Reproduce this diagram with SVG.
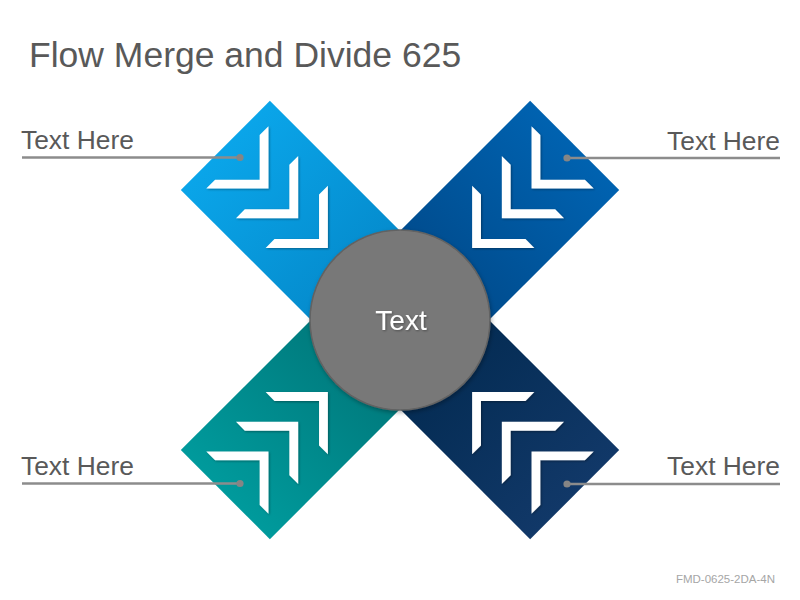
<svg xmlns="http://www.w3.org/2000/svg" xmlns:xlink="http://www.w3.org/1999/xlink" width="800" height="600" viewBox="0 0 800 600">
<style>
.title{font-family:"Liberation Sans",Arial,sans-serif;font-size:35.5px;fill:#595959}
.lbl{font-family:"Liberation Sans",Arial,sans-serif;font-size:26.4px;fill:#595959}
.ctr{font-family:"Liberation Sans",Arial,sans-serif;font-size:28px;fill:#ffffff}
.foot{font-family:"Liberation Sans",Arial,sans-serif;font-size:11.5px;fill:#a6a6a6}
.chev{fill:#ffffff}
.lead{stroke:#8c8c8c;stroke-width:2.6;fill:none}
.dot{fill:#858585}
</style>
<defs>
<linearGradient id="gTL" x1="0" y1="0" x2="1" y2="0"><stop offset="0" stop-color="#0383C4"/><stop offset="1" stop-color="#0AA5E9"/></linearGradient>
<linearGradient id="gTR" x1="0" y1="0" x2="1" y2="0"><stop offset="0" stop-color="#004583"/><stop offset="1" stop-color="#0062B0"/></linearGradient>
<linearGradient id="gBL" x1="0" y1="0" x2="1" y2="0"><stop offset="0" stop-color="#007073"/><stop offset="1" stop-color="#009A9C"/></linearGradient>
<linearGradient id="gBR" x1="0" y1="0" x2="1" y2="0"><stop offset="0" stop-color="#00284D"/><stop offset="1" stop-color="#113868"/></linearGradient>
<filter id="sh" x="-20%" y="-20%" width="140%" height="140%"><feDropShadow dx="1" dy="1" stdDeviation="1" flood-color="#000" flood-opacity="0.35"/></filter>
<filter id="csh" x="-20%" y="-20%" width="140%" height="140%"><feDropShadow dx="1" dy="2" stdDeviation="2" flood-color="#000" flood-opacity="0.3"/></filter>
<path id="chev" d="M0,0 L44,44 L44,31.5 L12.5,0 L44,-31.5 L44,-44 Z"/>
</defs>
<rect width="800" height="600" fill="#ffffff"/>
<text class="title" x="29" y="67">Flow Merge and Divide 625</text>

<g id="arm-top-right">
<rect transform="translate(400,320) rotate(315)" x="0" y="-63" width="247" height="126" fill="url(#gTR)"/>
<g filter="url(#sh)" class="chev">
<use xlink:href="#chev" transform="translate(400,320) rotate(315) translate(102,0)"/>
<use xlink:href="#chev" transform="translate(400,320) rotate(315) translate(144,0)"/>
<use xlink:href="#chev" transform="translate(400,320) rotate(315) translate(186,0)"/>
</g>
</g>
<g id="arm-bottom-right">
<rect transform="translate(400,320) rotate(45)" x="0" y="-63" width="247" height="126" fill="url(#gBR)"/>
<g filter="url(#sh)" class="chev">
<use xlink:href="#chev" transform="translate(400,320) rotate(45) translate(102,0)"/>
<use xlink:href="#chev" transform="translate(400,320) rotate(45) translate(144,0)"/>
<use xlink:href="#chev" transform="translate(400,320) rotate(45) translate(186,0)"/>
</g>
</g>
<g id="arm-bottom-left">
<rect transform="translate(400,320) rotate(135)" x="0" y="-63" width="247" height="126" fill="url(#gBL)"/>
<g filter="url(#sh)" class="chev">
<use xlink:href="#chev" transform="translate(400,320) rotate(135) translate(102,0)"/>
<use xlink:href="#chev" transform="translate(400,320) rotate(135) translate(144,0)"/>
<use xlink:href="#chev" transform="translate(400,320) rotate(135) translate(186,0)"/>
</g>
</g>
<g id="arm-top-left">
<rect transform="translate(400,320) rotate(225)" x="0" y="-63" width="247" height="126" fill="url(#gTL)"/>
<g filter="url(#sh)" class="chev">
<use xlink:href="#chev" transform="translate(400,320) rotate(225) translate(102,0)"/>
<use xlink:href="#chev" transform="translate(400,320) rotate(225) translate(144,0)"/>
<use xlink:href="#chev" transform="translate(400,320) rotate(225) translate(186,0)"/>
</g>
</g>

<g id="center">
<circle cx="400" cy="320" r="90" fill="#787878" stroke="#626262" stroke-width="1.5" filter="url(#csh)"/>
<text class="ctr" x="401" y="330" text-anchor="middle" filter="url(#sh)">Text</text>
</g>

<g id="connectors">
<line class="lead" x1="22" y1="157.5" x2="240" y2="157.5"/>
<circle class="dot" cx="240" cy="157.5" r="3.6"/>
<line class="lead" x1="567" y1="158" x2="780" y2="158"/>
<circle class="dot" cx="567" cy="158" r="3.6"/>
<line class="lead" x1="22" y1="483.5" x2="240" y2="483.5"/>
<circle class="dot" cx="240" cy="483.5" r="3.6"/>
<line class="lead" x1="567" y1="484" x2="780" y2="484"/>
<circle class="dot" cx="567" cy="484" r="3.6"/>
</g>

<g id="label-top-left"><text class="lbl" x="21" y="149">Text Here</text></g>
<g id="label-top-right"><text class="lbl" x="780" y="150" text-anchor="end">Text Here</text></g>
<g id="label-bottom-left"><text class="lbl" x="21" y="475">Text Here</text></g>
<g id="label-bottom-right"><text class="lbl" x="780" y="475" text-anchor="end">Text Here</text></g>

<text class="foot" x="775" y="583" text-anchor="end">FMD-0625-2DA-4N</text>
</svg>
